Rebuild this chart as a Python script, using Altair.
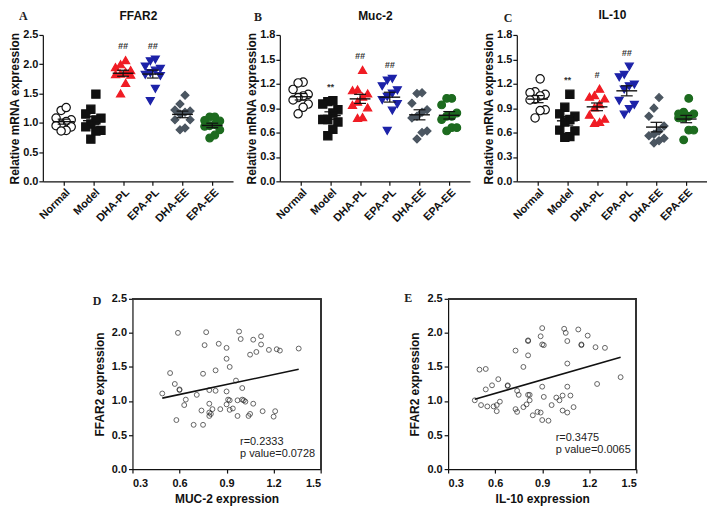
import json
import altair as alt
import pandas as pd

groups = ["Normal", "Model", "DHA-PL", "EPA-PL", "DHA-EE", "EPA-EE"]

# Panel A: FFAR2 relative mRNA expression
ffar2_normal = [1.21, 1.26, 1.08, 1.05, 1.02, 0.96, 0.95, 0.93, 0.87, 0.86]
ffar2_model = [1.49, 1.23, 1.15, 1.08, 1.05, 0.98, 0.93, 0.87, 0.86, 0.72]
ffar2_dha_pl = [2.07, 2.00, 1.95, 1.90, 1.87, 1.84, 1.83, 1.82, 1.68, 1.50]
ffar2_epa_pl = [2.08, 2.05, 1.96, 1.92, 1.89, 1.85, 1.82, 1.80, 1.58, 1.37]
ffar2_dha_ee = [1.47, 1.32, 1.22, 1.20, 1.18, 1.15, 1.05, 1.05, 0.88, 0.91]
ffar2_epa_ee = [1.10, 1.10, 1.04, 1.03, 0.97, 0.95, 0.94, 0.88, 0.74, 0.79]
ffar2_sig = ["", "", "##", "##", "", ""]

# Panel B: Muc-2
muc2_normal = [1.22, 1.21, 1.13, 1.07, 1.05, 1.03, 1.00, 0.95, 0.91, 0.83]
muc2_model = [0.98, 0.99, 0.95, 0.88, 0.84, 0.76, 0.76, 0.73, 0.64, 0.56]
muc2_dha_pl = [1.37, 1.13, 1.12, 1.08, 1.04, 0.98, 0.94, 0.91, 0.79, 0.78]
muc2_epa_pl = [1.26, 1.24, 1.17, 1.12, 1.08, 1.04, 1.00, 0.95, 0.87, 0.62]
muc2_dha_ee = [1.09, 1.08, 0.96, 0.88, 0.85, 0.80, 0.78, 0.62, 0.60, 0.52]
muc2_epa_ee = [1.02, 1.02, 0.94, 0.84, 0.80, 0.80, 0.76, 0.66, 0.66, 0.62]
muc2_sig = ["", "**", "##", "##", "", ""]

# Panel C: IL-10
il10_normal = [1.26, 1.10, 1.09, 1.07, 1.05, 1.01, 1.00, 0.88, 0.87, 0.78]
il10_model = [1.07, 0.91, 0.83, 0.80, 0.76, 0.73, 0.63, 0.62, 0.55, 0.54]
il10_dha_pl = [1.14, 1.06, 1.04, 1.02, 0.95, 0.91, 0.82, 0.77, 0.73, 0.72]
il10_epa_pl = [1.41, 1.31, 1.28, 1.19, 1.17, 1.13, 0.99, 0.94, 0.89, 0.82]
il10_dha_ee = [1.03, 0.90, 0.80, 0.68, 0.62, 0.58, 0.56, 0.53, 0.50, 0.47]
il10_epa_ee = [1.02, 0.85, 0.83, 0.83, 0.80, 0.78, 0.78, 0.63, 0.63, 0.51]
il10_sig = ["", "**", "#", "##", "", ""]

# Panel D: MUC-2 vs FFAR2
d_muc2 = [0.59, 0.77, 0.98, 0.99, 1.12, 1.07, 1.12, 0.76, 0.85, 0.90,
          1.09, 1.05, 1.17, 1.22, 1.24, 1.36, 0.90, 0.92, 0.83, 0.75,
          0.54, 0.57, 0.60, 0.60, 0.49, 0.71, 0.79, 0.83, 0.90, 0.96,
          1.00, 0.64, 0.63, 0.79, 0.91, 0.92, 0.97, 1.00, 1.01, 1.02,
          1.07, 0.90, 0.74, 0.81, 0.86, 0.92, 0.94, 0.79, 0.80, 0.79,
          0.97, 1.04, 1.05, 1.13, 1.21, 1.20, 0.58, 0.69, 0.75]
d_ffar2 = [2.00, 2.01, 2.02, 1.91, 1.95, 1.90, 1.83, 1.82, 1.84, 1.78,
           1.72, 1.68, 1.75, 1.76, 1.74, 1.77, 1.62, 1.50, 1.45, 1.40,
           1.41, 1.25, 1.17, 1.16, 1.11, 1.09, 1.16, 1.15, 1.14, 1.30,
           1.19, 1.02, 0.94, 0.96, 1.02, 1.01, 1.01, 1.02, 1.01, 0.99,
           0.96, 0.95, 0.86, 0.88, 0.88, 0.87, 0.89, 0.83, 0.81, 0.78,
           0.78, 0.78, 0.81, 0.85, 0.85, 0.77, 0.72, 0.65, 0.65]

# Panel E: IL-10 vs FFAR2
e_il10 = [0.90, 1.04, 1.13, 1.05, 1.19, 0.89, 0.81, 0.81, 1.06, 0.90,
          0.91, 1.15, 1.15, 1.24, 1.30, 0.73, 0.81, 1.06, 0.78, 0.50,
          0.54, 0.62, 0.54, 0.58, 0.68, 0.68, 0.74, 0.75, 0.81, 0.82,
          0.90, 1.06, 1.40, 1.25, 0.47, 0.51, 0.55, 0.59, 0.61, 0.63,
          0.61, 0.73, 0.74, 0.78, 0.80, 0.82, 0.84, 0.87, 0.89, 0.90,
          0.94, 0.96, 0.91, 0.99, 1.01, 1.03, 1.08, 1.03, 1.06, 1.10]
e_ffar2 = [2.07, 2.06, 2.05, 2.00, 1.96, 1.95, 1.89, 1.88, 1.88, 1.83,
           1.82, 1.83, 1.82, 1.79, 1.78, 1.74, 1.67, 1.55, 1.50, 1.46,
           1.47, 1.32, 1.17, 1.23, 1.23, 1.22, 1.15, 1.09, 1.09, 1.09,
           1.21, 1.21, 1.35, 1.25, 1.01, 0.94, 0.92, 0.92, 0.94, 0.99,
           0.85, 0.88, 0.84, 0.91, 0.95, 1.01, 0.79, 0.84, 0.83, 0.72,
           0.71, 0.94, 1.06, 1.05, 1.01, 1.08, 1.08, 0.86, 0.83, 0.91]

shapes = ["circle", "square", "triangle-up", "triangle-down", "diamond", "circle"]
fills = ["#ffffff", "#111111", "#f01c24", "#1c22a8", "#4b5661", "#1d6b1f"]
strokes = ["#111111", "#111111", "#f01c24", "#1c22a8", "#4b5661", "#1d6b1f"]
sizes = [70, 60, 74, 74, 44, 66]

FONT = "Liberation Sans"


def panel_df(series, sig):
    rows = []
    for gi, (g, vals) in enumerate(zip(groups, series), start=1):
        for v in vals:
            rows.append({"group": g, "gi": gi, "value": v, "sig": sig[gi - 1]})
    return pd.DataFrame(rows)


label_expr = json.dumps([""] + groups) + "[datum.value]"


def text_layer(txt, x, y, **kw):
    return alt.Chart(pd.DataFrame({"t": [txt]})).mark_text(**kw).encode(
        text="t:N", x=alt.value(x), y=alt.value(y))


def dot_panel(df, title, ymax, yticks, letter, ldx, ldy, ty):
    xscale = alt.Scale(domain=[0.3, 6.7], nice=False, zero=False)
    yscale = alt.Scale(domain=[0, ymax], nice=False, zero=True)
    xaxis = alt.Axis(values=[1, 2, 3, 4, 5, 6], labelExpr=label_expr, labelAngle=-45,
                     title=None, grid=False, tickSize=4, labelPadding=1,
                     labelOverlap=False, labelFontSize=11)
    yaxis = alt.Axis(values=yticks, format=".1f", title="Relative mRNA expression",
                     grid=False, tickSize=4, titlePadding=1, labelPadding=1)
    base = alt.Chart(df)
    pts = base.transform_window(
        rk="row_number()", groupby=["gi"], sort=[alt.SortField("value", order="ascending")]
    ).transform_calculate(
        xj="datum.gi + ((datum.rk % 4) - 1.5) * 0.17"
    ).mark_point(filled=True, strokeWidth=1.2, opacity=1).encode(
        x=alt.X("xj:Q", scale=xscale, axis=xaxis),
        y=alt.Y("value:Q", scale=yscale, axis=yaxis),
        shape=alt.Shape("group:N", scale=alt.Scale(domain=groups, range=shapes), legend=None),
        fill=alt.Fill("group:N", scale=alt.Scale(domain=groups, range=fills), legend=None),
        stroke=alt.Stroke("group:N", scale=alt.Scale(domain=groups, range=strokes), legend=None),
        size=alt.Size("group:N", scale=alt.Scale(domain=groups, range=sizes), legend=None),
    )
    stats = base.transform_aggregate(
        mean="mean(value)", se="stderr(value)", groupby=["gi"]
    ).transform_calculate(
        lo="datum.mean - datum.se", hi="datum.mean + datum.se",
        ml="datum.gi - 0.35", mr="datum.gi + 0.35",
        cl="datum.gi - 0.2", cr="datum.gi + 0.2",
    )
    mean_rule = stats.mark_rule(color="#111111", strokeWidth=1.4).encode(
        x=alt.X("ml:Q", scale=xscale, axis=xaxis), x2="mr:Q",
        y=alt.Y("mean:Q", scale=yscale, axis=yaxis))
    v_rule = stats.mark_rule(color="#111111", strokeWidth=1.2).encode(
        x=alt.X("gi:Q", scale=xscale, axis=xaxis),
        y=alt.Y("lo:Q", scale=yscale, axis=yaxis), y2="hi:Q")
    cap_lo = stats.mark_rule(color="#111111", strokeWidth=1.2).encode(
        x=alt.X("cl:Q", scale=xscale, axis=xaxis), x2="cr:Q",
        y=alt.Y("lo:Q", scale=yscale, axis=yaxis))
    cap_hi = stats.mark_rule(color="#111111", strokeWidth=1.2).encode(
        x=alt.X("cl:Q", scale=xscale, axis=xaxis), x2="cr:Q",
        y=alt.Y("hi:Q", scale=yscale, axis=yaxis))
    sig = base.transform_filter("datum.sig != ''").mark_text(
        dy=-14, fontSize=9, fontStyle="italic", fontWeight="bold", color="#333333", font=FONT
    ).encode(
        x=alt.X("gi:Q", scale=xscale, axis=xaxis),
        y=alt.Y("max(value):Q", scale=yscale, axis=yaxis),
        text="sig:N")
    let = text_layer(letter, ldx, ldy, font="Liberation Serif", fontWeight="bold",
                     fontSize=12, align="left", baseline="middle", color="#222222")
    ttl = text_layer(title, 96, ty, font=FONT, fontWeight="bold", fontSize=12,
                     align="center", baseline="middle", color="#111111")
    return alt.layer(pts, mean_rule, v_rule, cap_lo, cap_hi, sig, let, ttl).properties(
        width=191, height=147,
    )


def scatter_panel(xs, ys, xtitle, letter, ldx, ldy, note, ty, shift=0):
    df = pd.DataFrame({"x": xs, "y": ys})
    W = 189
    xscale = alt.Scale(domain=[0.3, 1.5], range=[shift, W + shift], nice=False, zero=False)
    yscale = alt.Scale(domain=[0, 2.5], nice=False, zero=True)
    xaxis = alt.Axis(values=[0.3, 0.6, 0.9, 1.2, 1.5], format=".1f", title=xtitle,
                     grid=False, tickSize=4, labelPadding=4, titlePadding=6,
                     labelOverlap=False)
    yaxis = alt.Axis(values=[0, 0.5, 1.0, 1.5, 2.0, 2.5], format=".1f",
                     title="FFAR2 expression", grid=False, tickSize=4, titlePadding=5,
                     offset=-shift)
    base = alt.Chart(df)
    pts = base.mark_point(shape="circle", filled=False, color="#222222", size=24,
                          strokeWidth=1).encode(
        x=alt.X("x:Q", scale=xscale, axis=xaxis),
        y=alt.Y("y:Q", scale=yscale, axis=yaxis))
    line = base.transform_regression("x", "y").mark_line(color="#111111", strokeWidth=1.6).encode(
        x=alt.X("x:Q", scale=xscale, axis=xaxis),
        y=alt.Y("y:Q", scale=yscale, axis=yaxis))
    # top and right edges of the frame, drawn at the ends of the axis domains
    frame_top = base.mark_rule(color="#333333", strokeWidth=1).encode(
        x=alt.datum(0.3, scale=xscale, axis=xaxis), x2=alt.datum(1.5),
        y=alt.datum(2.5, scale=yscale, axis=yaxis))
    frame_right = base.mark_rule(color="#333333", strokeWidth=1).encode(
        x=alt.datum(1.5, scale=xscale, axis=xaxis),
        y=alt.datum(0, scale=yscale, axis=yaxis), y2=alt.datum(2.5))
    txt = text_layer(note, 108 + shift, ty, font=FONT, fontSize=11, align="left",
                     baseline="middle", lineBreak="\n", lineHeight=12, color="#222222")
    let = text_layer(letter, ldx + shift, ldy, font="Liberation Serif", fontWeight="bold",
                     fontSize=12, align="left", baseline="middle", color="#222222")
    return alt.layer(pts, line, frame_top, frame_right, txt, let).properties(
        width=W + shift, height=171,
    )


panel_a = dot_panel(
    panel_df([ffar2_normal, ffar2_model, ffar2_dha_pl, ffar2_epa_pl, ffar2_dha_ee, ffar2_epa_ee], ffar2_sig),
    "FFAR2", 2.5, [0, 0.5, 1.0, 1.5, 2.0, 2.5], "A", -24, -19, -19)
panel_b = dot_panel(
    panel_df([muc2_normal, muc2_model, muc2_dha_pl, muc2_epa_pl, muc2_dha_ee, muc2_epa_ee], muc2_sig),
    "Muc-2", 1.8, [0, 0.3, 0.6, 0.9, 1.2, 1.5, 1.8], "B", -26, -18, -19)
panel_c = dot_panel(
    panel_df([il10_normal, il10_model, il10_dha_pl, il10_epa_pl, il10_dha_ee, il10_epa_ee], il10_sig),
    "IL-10", 1.8, [0, 0.3, 0.6, 0.9, 1.2, 1.5, 1.8], "C", -13, -17, -20)

panel_d = scatter_panel(d_muc2, d_ffar2, "MUC-2 expression", "D", -40, 2,
                        "r=0.2333\np value=0.0728", 144, shift=90)
panel_e = scatter_panel(e_il10, e_ffar2, "IL-10 expression", "E", -44, -1,
                        "r=0.3475\np value=0.0065", 140)

top = alt.hconcat(panel_a, panel_b, panel_c, spacing=47, bounds="flush")
bottom = alt.hconcat(panel_d, panel_e, spacing=128, bounds="flush")

chart = alt.vconcat(top, bottom, spacing=68).properties(
    padding=0
).configure_view(stroke=None).configure_axis(
    labelFont=FONT, labelFontWeight="bold", labelFontSize=11, labelColor="#111111",
    titleFont=FONT, titleFontWeight="bold", titleFontSize=12, titleColor="#111111",
    domainColor="#111111", tickColor="#111111", domainWidth=1.2, tickWidth=1.2,
)

chart.save("out.html", embed_options={"renderer": "svg", "actions": False})
